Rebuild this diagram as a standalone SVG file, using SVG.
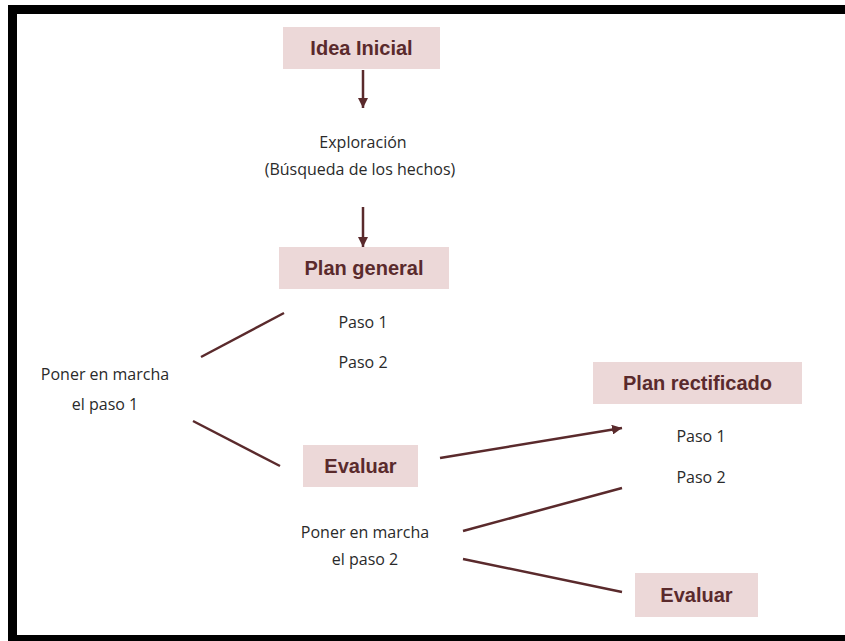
<svg xmlns="http://www.w3.org/2000/svg" width="845" height="641" viewBox="0 0 845 641">
<defs>
<style>
.box{fill:#ecd8d8;}
.lbl{font-family:"Liberation Sans",Arial,sans-serif;font-weight:bold;font-size:20px;fill:#5a2a2c;text-anchor:middle;}
.txt{font-family:"Open Sans","Liberation Sans",sans-serif;font-size:16px;fill:#2a2a2a;text-anchor:middle;}
.ln{stroke:#5a2a2c;stroke-width:2.5;fill:none;stroke-linecap:butt;}
</style>
<marker id="ah" viewBox="0 0 10 10" refX="10" refY="5" markerWidth="4" markerHeight="4" markerUnits="strokeWidth" orient="auto">
<path d="M0,0 L10,5 L0,10 z" fill="#5a2a2c"/>
</marker>
</defs>
<rect x="0" y="0" width="845" height="641" fill="#ffffff"/>
<g id="frame">
<rect x="8" y="5" width="837" height="9" fill="#000"/>
<rect x="8" y="5" width="9" height="636" fill="#000"/>
<rect x="8" y="635" width="837" height="6" fill="#000"/>
</g>
<g id="connectors">
<line class="ln" x1="363" y1="70" x2="363" y2="108" marker-end="url(#ah)"/>
<line class="ln" x1="363" y1="207" x2="363" y2="247" marker-end="url(#ah)"/>
<line class="ln" x1="201" y1="357" x2="284" y2="313"/>
<line class="ln" x1="193" y1="421" x2="280" y2="466"/>
<line class="ln" x1="440" y1="458" x2="622" y2="428" marker-end="url(#ah)"/>
<line class="ln" x1="463" y1="531" x2="622" y2="488"/>
<line class="ln" x1="463" y1="559" x2="622" y2="592"/>
</g>
<g id="idea-inicial">
<rect class="box" x="283" y="27" width="157" height="42"/>
<text class="lbl" x="361.5" y="55">Idea Inicial</text>
</g>
<g id="exploracion">
<text class="txt" x="363" y="148">Exploración</text>
<text class="txt" x="360" y="175">(Búsqueda de los hechos)</text>
</g>
<g id="plan-general">
<rect class="box" x="279" y="247" width="170" height="42"/>
<text class="lbl" x="364" y="275">Plan general</text>
</g>
<g id="pasos-1">
<text class="txt" x="363" y="328">Paso 1</text>
<text class="txt" x="363" y="368">Paso 2</text>
</g>
<g id="poner-paso-1">
<text class="txt" x="105" y="380">Poner en marcha</text>
<text class="txt" x="105" y="410">el paso 1</text>
</g>
<g id="evaluar-1">
<rect class="box" x="303" y="445" width="115" height="42"/>
<text class="lbl" x="360.5" y="473">Evaluar</text>
</g>
<g id="plan-rectificado">
<rect class="box" x="593" y="362" width="209" height="42"/>
<text class="lbl" x="697.5" y="390">Plan rectificado</text>
</g>
<g id="pasos-2">
<text class="txt" x="701" y="442">Paso 1</text>
<text class="txt" x="701" y="483">Paso 2</text>
</g>
<g id="poner-paso-2">
<text class="txt" x="365" y="538">Poner en marcha</text>
<text class="txt" x="365" y="565">el paso 2</text>
</g>
<g id="evaluar-2">
<rect class="box" x="635" y="573" width="123" height="44"/>
<text class="lbl" x="696.5" y="602">Evaluar</text>
</g>
</svg>
